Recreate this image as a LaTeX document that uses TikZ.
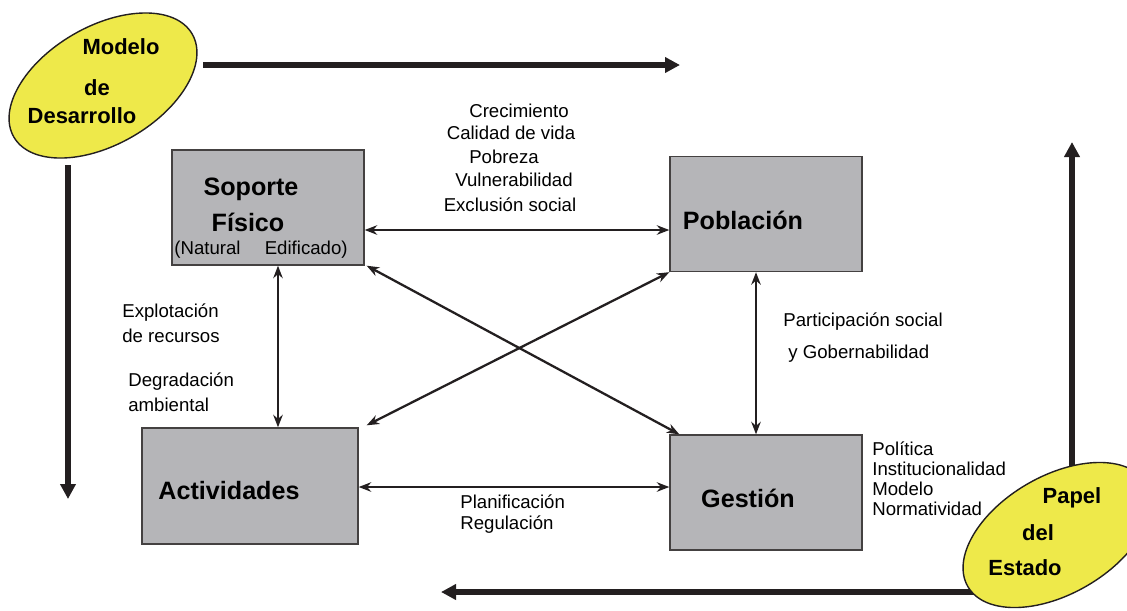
\documentclass[tikz,border=0pt]{standalone}
\usepackage{fontspec}
\setmainfont{Liberation Sans}
\usepackage{xcolor}
\usepackage{tikz}
\usetikzlibrary{shapes.geometric,arrows.meta,positioning,calc}

\definecolor{amarillo}{RGB}{238,233,74}
\definecolor{gris}{RGB}{181,181,184}
\definecolor{tinta}{RGB}{35,31,32}

\tikzset{
    caja/.style={draw=tinta!85, line width=0.8pt, fill=gris, minimum width=3.84cm, minimum height=2.3cm},
    ovalo/.style={ellipse, draw=tinta, line width=0.8pt, fill=amarillo, minimum width=4.12cm, minimum height=2.36cm, rotate=30},
    grueso/.style={line width=3pt, draw=tinta, -{Triangle[length=0.3cm,width=0.3cm]}},
    flecha/.style={line width=1.3pt, draw=tinta, {Stealth[length=0.25cm,width=0.19cm]}-{Stealth[length=0.25cm,width=0.19cm]}},
    titulo/.style={font=\fontsize{14.3}{17}\selectfont\bfseries, inner sep=0pt},
    oval texto/.style={font=\fontsize{12.5}{15}\selectfont\bfseries, inner sep=0pt},
    etiqueta/.style={font=\fontsize{10.6}{12}\selectfont, inner sep=0pt}
}

\begin{document}
\begin{tikzpicture}[x=0.02cm, y=-0.02cm]
    \useasboundingbox (0,0) rectangle (1127,610);
    \clip (0,0) rectangle (1127,610);

    % Cajas
    \node[caja] (sop) at (268,207.5) {};
    \node[caja] (pob) at (766,214) {};
    \node[caja, minimum width=4.32cm, minimum height=2.32cm] (act) at (250,486) {};
    \node[caja] (ges) at (766,492.5) {};

    \node[titulo] (sop1) at (251,189) {Soporte};
    \node[titulo] (sop2) at (248,222) {Físico};
    \node[etiqueta] (sop3) at (261,250) {(Natural\hspace{1.3em}Edificado)};
    \node[titulo] (pobt) at (743,220) {Población};
    \node[titulo] (actt) at (229,491) {Actividades};
    \node[titulo] (gest) at (748,498) {Gestión};

    % Relaciones
    \draw[flecha] ([yshift=-0.45cm]sop.east) -- ([yshift=-0.45cm]sop.east -| pob.west);
    \draw[flecha] ([xshift=0.2cm]sop.south) -- ([xshift=0.2cm]sop.south |- act.north);
    \draw[flecha] ([xshift=-0.2cm]pob.south) -- ([xshift=-0.2cm]pob.south |- ges.north);
    \draw[flecha] ([yshift=-0.02cm]act.east) -- ([yshift=-0.02cm]act.east -| ges.west);
    \draw[flecha] ([xshift=0.04cm]sop.south east) -- ([xshift=0.2cm]ges.north west);
    \draw[flecha] (pob.south west) -- ([xshift=0.16cm,yshift=0.04cm]act.north east);

    % Etiquetas
    \node[etiqueta] (l1) at (519,111) {Crecimiento};
    \node[etiqueta] (l2) at (511,133) {Calidad de vida};
    \node[etiqueta] (l3) at (504,157) {Pobreza};
    \node[etiqueta] (l4) at (514,180) {Vulnerabilidad};
    \node[etiqueta] (l5) at (510,205) {Exclusión social};

    \node[etiqueta, anchor=west] (e1) at (122,313) {Explotación};
    \node[etiqueta, anchor=west] (e2) at (122,336) {de recursos};
    \node[etiqueta, anchor=west] (e3) at (128,382) {Degradación};
    \node[etiqueta, anchor=west] (e4) at (128,405) {ambiental};

    \node[etiqueta, anchor=west] (p1) at (783,322) {Participación social};
    \node[etiqueta, anchor=west] (p2) at (788,354) {y Gobernabilidad};

    \node[etiqueta, anchor=west] (r1) at (460,502) {Planificación};
    \node[etiqueta, anchor=west] (r2) at (460,525) {Regulación};

    \node[etiqueta, anchor=west] (g1) at (872,449) {Política};
    \node[etiqueta, anchor=west] (g2) at (872,469) {Institucionalidad};
    \node[etiqueta, anchor=west] (g3) at (872,489) {Modelo};
    \node[etiqueta, anchor=west] (g4) at (872,509) {Normatividad};

    % Flechas gruesas
    \coordinate (a1) at (203,65);
    \coordinate (a2) at (680,65);
    \coordinate (b1) at (68,165);
    \coordinate (b2) at (68,499);
    \coordinate (c1) at (1072,470);
    \coordinate (c2) at (1072,142);
    \coordinate (d1) at (975,592);
    \coordinate (d2) at (441,592);
    \draw[grueso] (a1) -- (a2);
    \draw[grueso] (b1) -- (b2);
    \draw[grueso] (c1) -- (c2);
    \draw[grueso] (d1) -- (d2);

    % Ovalos
    \node[ovalo] (mod) at (103,85.5) {};
    \node[oval texto] (m1) at (121,47) {Modelo};
    \node[oval texto] (m2) at (97,88) {de};
    \node[oval texto] (m3) at (82,116) {Desarrollo};

    \node[ovalo] (est) at (1057,535) {};
    \node[oval texto] (s1) at (1072,498) {Papel};
    \node[oval texto] (s2) at (1038,533) {del};
    \node[oval texto] (s3) at (1025,568) {Estado};
\end{tikzpicture}
\end{document}
